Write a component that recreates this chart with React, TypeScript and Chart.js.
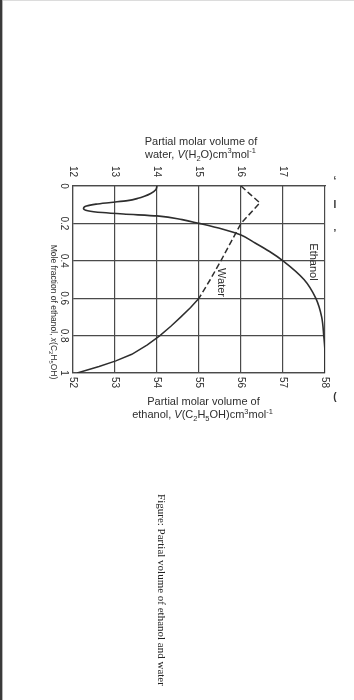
import React, { useEffect, useRef } from "react";
import { Chart, registerables } from "chart.js";

Chart.register(...registerables);

// ---- data ----
const ethanolFraction = [0, 0.02, 0.04, 0.055, 0.066, 0.078, 0.088, 0.097, 0.107, 0.12, 0.132, 0.142, 0.15, 0.16, 0.18, 0.2, 0.23, 0.262, 0.3, 0.35, 0.4, 0.5, 0.6, 0.7, 0.8, 0.9, 1.0];
const ethanolVolume = [54.0, 53.97, 53.85, 53.7, 53.55, 53.3, 52.9, 52.55, 52.32, 52.25, 52.35, 52.7, 53.2, 54.0, 54.6, 55.0, 55.55, 56.0, 56.3, 56.68, 57.0, 57.5, 57.78, 57.92, 57.97, 58.0, 58.0];

const waterFraction = [0, 0.045, 0.09, 0.2, 0.3, 0.4, 0.5, 0.6, 0.65, 0.7, 0.75, 0.8, 0.85, 0.9, 0.935, 0.965, 1.0];
const waterVolume = [16.0, 16.22, 16.45, 16.0, 15.76, 15.52, 15.27, 15.0, 14.8, 14.57, 14.33, 14.07, 13.77, 13.4, 13.02, 12.62, 12.1];
const waterDashedUntil = 0.6;

const ethanolTicks = [52, 53, 54, 55, 56, 57, 58];
const waterTicks = [12, 13, 14, 15, 16, 17];
const fractionTicks = [0, 0.2, 0.4, 0.6, 0.8, 1];
const fractionTickLabels = ["0", "0.2", "0.4", "0.6", "0.8", "1"];

type Seg = [string, string];
const topTitleLine1: Seg[] = [["Partial molar volume of", ""]];
const topTitleLine2: Seg[] = [["water, ", ""], ["V", "i"], ["(H", ""], ["2", "sub"], ["O)cm", ""], ["3", "sup"], ["mol", ""], ["-1", "sup"]];
const bottomTitleLine1: Seg[] = [["Partial molar volume of", ""]];
const bottomTitleLine2: Seg[] = [["ethanol, ", ""], ["V", "i"], ["(C", ""], ["2", "sub"], ["H", ""], ["5", "sub"], ["OH)cm", ""], ["3", "sup"], ["mol", ""], ["-1", "sup"]];
const leftTitle: Seg[] = [["Mole fraction of ethanol, ", ""], ["x", "i"], ["(C", ""], ["2", "sub"], ["H", ""], ["5", "sub"], ["OH)", ""]];
const ethanolLabel = "Ethanol";
const waterLabel = "Water";
const captionText = "Figure: Partial volume of ethanol and water";

const SANS = '"Liberation Sans", Arial, sans-serif';
const SERIF = '"Liberation Serif", "Times New Roman", serif';
const INK = "#2e2e2e";

function fontFor(style: string, size: number) {
  const s = style === "sub" || style === "sup" ? size * 0.68 : size;
  return `${style === "i" ? "italic " : ""}${s}px ${SANS}`;
}

function richWidth(ctx: CanvasRenderingContext2D, segs: Seg[], size: number) {
  let w = 0;
  for (const [t, st] of segs) {
    ctx.font = fontFor(st, size);
    w += ctx.measureText(t).width;
  }
  return w;
}

function drawRich(ctx: CanvasRenderingContext2D, segs: Seg[], x: number, y: number, size: number) {
  const w = richWidth(ctx, segs, size);
  let cx = x - w / 2;
  ctx.textAlign = "left";
  ctx.textBaseline = "alphabetic";
  for (const [t, st] of segs) {
    ctx.font = fontFor(st, size);
    const dy = st === "sub" ? size * 0.28 : st === "sup" ? -size * 0.38 : 0;
    ctx.fillText(t, cx, y + dy);
    cx += ctx.measureText(t).width;
  }
}

function rotText(ctx: CanvasRenderingContext2D, t: string, x: number, y: number, font: string) {
  ctx.save();
  ctx.translate(x, y);
  ctx.rotate(Math.PI / 2);
  ctx.font = font;
  ctx.textAlign = "center";
  ctx.textBaseline = "middle";
  ctx.fillText(t, 0, 0);
  ctx.restore();
}

const overlayPlugin = {
  id: "overlay",
  afterDraw(chart: any) {
    const ctx: CanvasRenderingContext2D = chart.ctx;
    const xs = chart.scales.x;
    const x2 = chart.scales.x2;
    const ys = chart.scales.y;
    ctx.save();
    ctx.fillStyle = INK;
    const tickFont = `10px ${SANS}`;
    ethanolTicks.forEach((v) => rotText(ctx, String(v), xs.getPixelForValue(v), 382.5, tickFont));
    waterTicks.forEach((v) => rotText(ctx, String(v), x2.getPixelForValue(v), 171.5, tickFont));
    fractionTicks.forEach((v, i) => rotText(ctx, fractionTickLabels[i], 63.5, ys.getPixelForValue(v), tickFont));

    drawRich(ctx, topTitleLine1, 201, 145, 11);
    drawRich(ctx, topTitleLine2, 200.5, 157.5, 11);
    drawRich(ctx, bottomTitleLine1, 203.5, 405, 11);
    drawRich(ctx, bottomTitleLine2, 202.5, 417.7, 11);

    ctx.save();
    ctx.translate(54, 312);
    ctx.rotate(Math.PI / 2);
    drawRich(ctx, leftTitle, 0, 3, 8.5);
    ctx.restore();

    rotText(ctx, ethanolLabel, 313, 262, `11px ${SANS}`);
    rotText(ctx, waterLabel, 221.5, 282.5, `11px ${SANS}`);

    ctx.fillStyle = "#222";
    rotText(ctx, captionText, 161, 590, `11px ${SERIF}`);

    // page fragments at the right edge
    ctx.fillStyle = "#333";
    ctx.font = `bold 10px ${SANS}`;
    ctx.textAlign = "center";
    ctx.textBaseline = "middle";
    ctx.fillText("\u2018", 335, 181);
    ctx.fillText("I", 335, 205);
    ctx.fillText("\u2019", 335, 234);
    ctx.fillText("(", 335, 397);
    ctx.restore();
  },
};

export default function App() {
  const canvasRef = useRef<HTMLCanvasElement | null>(null);

  useEffect(() => {
    const canvas = canvasRef.current;
    if (!canvas) return;
    const zeroFit = (s: any) => {
      if (s.isHorizontal()) s.height = 0;
      else s.width = 0;
    };
    const chart = new Chart(canvas, {
      type: "line",
      data: {
        datasets: [
          {
            label: ethanolLabel,
            data: ethanolFraction.map((f, i) => ({ x: ethanolVolume[i], y: f })),
            xAxisID: "x",
            yAxisID: "y",
            borderColor: INK,
            borderWidth: 1.6,
            pointRadius: 0,
            fill: false,
            cubicInterpolationMode: "monotone",
          },
          {
            label: waterLabel,
            data: waterFraction.map((f, i) => ({ x: waterVolume[i], y: f })),
            xAxisID: "x2",
            yAxisID: "y",
            borderColor: INK,
            borderWidth: 1.5,
            pointRadius: 0,
            fill: false,
            tension: 0,
            segment: {
              borderDash: (c: any) => (c.p0.parsed.y < waterDashedUntil - 1e-9 ? [6, 3] : []),
            },
          },
        ],
      },
      options: {
        indexAxis: "y",
        animation: false,
        responsive: false,
        devicePixelRatio: 1,
        layout: { padding: { left: 73, top: 186, right: 29, bottom: 327 } },
        plugins: { legend: { display: false }, tooltip: { enabled: false }, title: { display: false } },
        scales: {
          x: {
            type: "linear",
            position: "bottom",
            min: 52,
            max: 58,
            ticks: { display: false, stepSize: 1 },
            grid: { color: "#4a4a4a", lineWidth: 1.2, drawTicks: false },
            border: { display: true, color: "#4a4a4a", width: 1.2 },
            afterFit: zeroFit,
          },
          x2: {
            type: "linear",
            position: "top",
            min: 12,
            max: 18,
            ticks: { display: false, stepSize: 1 },
            grid: { display: false, drawTicks: false },
            border: { display: true, color: "#4a4a4a", width: 1.2 },
            afterFit: zeroFit,
          },
          y: {
            type: "linear",
            position: "left",
            reverse: true,
            min: 0,
            max: 1,
            ticks: { display: false, stepSize: 0.2 },
            grid: { color: "#4a4a4a", lineWidth: 1.2, drawTicks: false },
            border: { display: true, color: "#4a4a4a", width: 1.2 },
            afterFit: zeroFit,
          },
        },
      },
      plugins: [overlayPlugin],
    } as any);
    return () => chart.destroy();
  }, []);

  return (
    <div style={{ position: "absolute", left: 0, top: 0, width: 354, height: 700, background: "#fff", overflow: "hidden" }}>
      <canvas ref={canvasRef} width={354} height={700} style={{ position: "absolute", left: 0, top: 0, width: 354, height: 700 }} />
      <div style={{ position: "absolute", left: 0, top: 0, width: 354, height: 1, background: "#dcdcdc" }} />
      <div style={{ position: "absolute", left: 0, top: 0, width: 2, height: 700, background: "#3a3a3a" }} />
      <div style={{ position: "absolute", left: 2, top: 0, width: 1, height: 700, background: "#b5b5b5" }} />
    </div>
  );
}
